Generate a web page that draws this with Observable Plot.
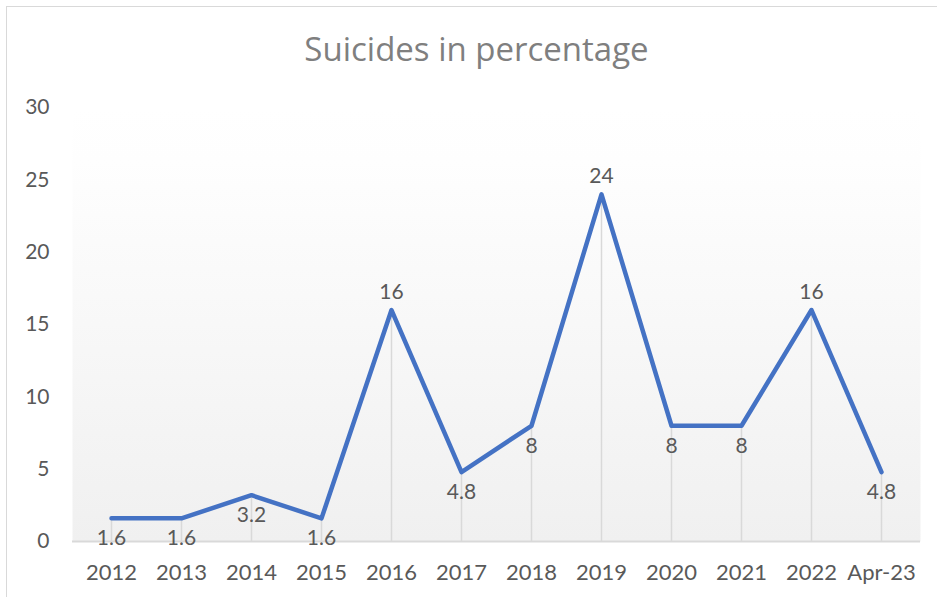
<!DOCTYPE html>
<html><head><meta charset="utf-8">
<script src="https://cdn.jsdelivr.net/npm/d3@7"></script>
<script src="https://cdn.jsdelivr.net/npm/@observablehq/plot@0.6"></script>
<style>
body{margin:0;background:#fff;}
#wrap{position:relative;width:937px;height:597px;overflow:hidden;font-family:Lato, sans-serif;}
#border{position:absolute;left:6px;top:6px;width:1000px;height:1000px;border:1.5px solid #d9d9d9;}
#title{position:absolute;left:0;width:953px;top:29px;text-align:center;font-family:"Open Sans", sans-serif;font-size:33px;color:#7f7f7f;line-height:1.2;white-space:nowrap;}
#chart{position:absolute;left:0;top:0;}
</style></head><body>
<div id="wrap"><div id="border"></div><div id="chart"></div><div id="title">Suicides in percentage</div></div>
<script>
const categories = ["2012","2013","2014","2015","2016","2017","2018","2019","2020","2021","2022","Apr-23"];
const values = [1.6, 1.6, 3.2, 1.6, 16, 4.8, 8, 24, 8, 8, 16, 4.8];
const yTicks = [0, 5, 10, 15, 20, 25, 30];

const data = categories.map((c, i) => ({cat: c, value: values[i]}));
const above = d => d.value > 10;

const plot = Plot.plot({
  width: 937, height: 597,
  marginTop: 107, marginBottom: 56, marginLeft: 72, marginRight: 17,
  style: {fontFamily: "Lato, sans-serif", fontSize: "21px", color: "#595959", background: "transparent", overflow: "visible"},
  x: {type: "point", domain: categories, padding: 0.5, label: null},
  y: {domain: [0, 30], ticks: yTicks, label: null},
  marks: [
    Plot.frame({fill: "url(#bg)", stroke: "none"}),
    Plot.ruleX(data, {x: "cat", y1: 0, y2: "value", stroke: "#d9d9d9", strokeWidth: 1.5}),
    Plot.ruleY([0], {stroke: "#d9d9d9", strokeWidth: 2}),
    Plot.line(data, {x: "cat", y: "value", stroke: "#4472c4", strokeWidth: 4.5}),
    Plot.text(data.filter(d => !above(d)), {x: "cat", y: "value", text: d => String(d.value), dy: 20, fill: "#595959", fontSize: 21}),
    Plot.text(data.filter(above), {x: "cat", y: "value", text: d => String(d.value), dy: -18, fill: "#595959", fontSize: 21}),
    Plot.axisX({tickSize: 0, tickPadding: 23, fontSize: 22}),
    Plot.axisY({tickSize: 0, tickPadding: 23, fontSize: 21, ticks: yTicks})
  ]
});

const grad = d3.select(plot).insert("defs", ":first-child")
  .append("linearGradient").attr("id", "bg")
  .attr("x1", 0).attr("y1", 0).attr("x2", 0).attr("y2", 1);
grad.append("stop").attr("offset", 0).attr("stop-color", "#ffffff");
grad.append("stop").attr("offset", 0.12).attr("stop-color", "#fefefe");
grad.append("stop").attr("offset", 1).attr("stop-color", "#f0f0f0");

document.getElementById("chart").appendChild(plot);
</script>
</body></html>
